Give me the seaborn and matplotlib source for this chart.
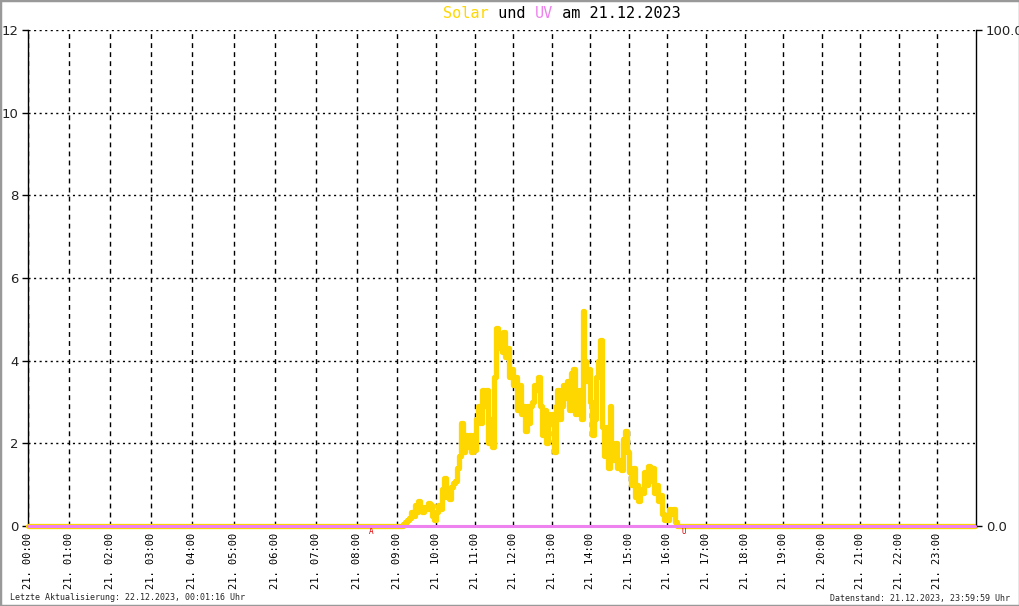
import numpy as np
import pandas as pd
import matplotlib
matplotlib.use('Agg')
import matplotlib.pyplot as plt
import seaborn as sns

# solar readings, one every 3 minutes from 09:03 to 16:15
solar_start = '09:03'
solar_end = '16:15'
solar_values = [
    0.0, 0.0, 0.05, 0.1, 0.15, 0.2, 0.35, 0.25, 0.5, 0.35,     # 09:03 - 09:30
    0.6, 0.45, 0.35, 0.45, 0.4, 0.55, 0.5, 0.25, 0.15, 0.35,   # 09:33 - 10:00
    0.5, 0.4, 0.9, 1.15, 0.7, 0.85, 0.65, 0.95, 1.05, 1.1,     # 10:03 - 10:30
    1.4, 1.7, 2.5, 1.8, 2.2, 1.9, 2.2, 1.8, 2.2, 1.85,         # 10:33 - 11:00
    2.6, 2.9, 2.5, 3.3, 2.9, 3.3, 2.0, 2.6, 1.9, 3.6,          # 11:03 - 11:30
    4.8, 4.3, 4.6, 4.2, 4.7, 4.1, 4.3, 3.6, 3.8, 3.4,          # 11:33 - 12:00
    3.6, 2.8, 3.4, 2.7, 2.9, 2.3, 2.9, 2.5, 2.9, 3.0,          # 12:03 - 12:30
    3.4, 3.3, 3.6, 2.9, 2.2, 2.8, 2.0, 2.7, 2.5, 2.7,          # 12:33 - 13:00
    1.8, 2.9, 3.3, 2.6, 2.9, 3.4, 3.1, 3.5, 2.8, 3.7,          # 13:03 - 13:30
    3.8, 2.7, 3.1, 3.3, 2.6, 5.2, 4.0, 3.5, 3.8, 3.0,          # 13:33 - 14:00
    2.2, 2.6, 3.6, 4.0, 4.5, 2.4, 1.7, 2.4, 1.4, 2.9,          # 14:03 - 14:30
    1.8, 1.6, 2.0, 1.4, 1.6, 1.35, 2.1, 2.3, 1.8, 1.3,         # 14:33 - 15:00
    1.0, 1.4, 0.7, 1.0, 0.6, 0.9, 0.8, 1.3, 1.0, 1.45,         # 15:03 - 15:30
    1.1, 1.4, 0.8, 1.0, 0.6, 0.75, 0.3, 0.15, 0.25, 0.15,      # 15:33 - 16:00
    0.4, 0.3, 0.4, 0.1, 0.0,                                   # 16:03 - 16:15
]
night_times = ['00:00', '23:59']
night_values = [0.0, 0.0]

uv_times = ['00:00', '23:59']
uv_values = [0.0, 0.0]

hour_labels = ['21. %02d:00' % h for h in range(24)]
sun_times = ['08:21', '16:25']
sun_marks = ['A', 'U']

update_text = 'Letzte Aktualisierung: 22.12.2023, 00:01:16 Uhr'
data_text = 'Datenstand: 21.12.2023, 23:59:59 Uhr'


def to_hours(t):
    t = pd.to_datetime(pd.Series(t), format='%H:%M')
    return (t.dt.hour + t.dt.minute / 60.0).to_numpy()


day_times = pd.date_range('2023-12-21 ' + solar_start, '2023-12-21 ' + solar_end, freq='3min')
df_solar = pd.DataFrame({
    'hour': np.concatenate([[to_hours(night_times)[0]],
                            (day_times.hour + day_times.minute / 60.0).to_numpy(),
                            [to_hours(night_times)[1]]]),
    'solar': [night_values[0]] + solar_values + [night_values[1]],
})
df_uv = pd.DataFrame({'hour': to_hours(uv_times), 'uv': uv_values})

sns.set_theme(style='white')
plt.rcParams['font.family'] = ['DejaVu Sans']
plt.rcParams['lines.scale_dashes'] = False

fig = plt.figure(figsize=(10.2, 6.06), dpi=100)
ax = fig.add_axes([28 / 1020, 80 / 606, 948 / 1020, 496 / 606])

# the source plots by sample index, so the hours are not evenly spaced
hour_knots = [0, 8, 9, 10, 24]
pos_knots = [0, 329, 369, 408, 948]
ax.set_xscale('function', functions=(lambda h: np.interp(h, hour_knots, pos_knots),
                                     lambda p: np.interp(p, pos_knots, hour_knots)))

sns.lineplot(data=df_solar, x='hour', y='solar', ax=ax, color='#FFD700', lw=3.8,
             drawstyle='steps-post', estimator=None, sort=False)
for ln in ax.lines:
    ln.set_clip_on(False)
    ln.set_zorder(3)
ax.set_xlim(0, 24)
ax.set_ylim(0, 12)
ax.set_yticks(range(0, 13, 2))
ax.set_xticks(range(24))
ax.set_xticklabels(hour_labels, rotation=90, family='DejaVu Sans Mono', fontsize=7.5,
                   va='top', ha='center')
ax.tick_params(axis='x', length=0, pad=5, colors='#000000')
ax.tick_params(axis='y', length=4, width=1, color='#000000', pad=3, labelsize=9.5,
               labelcolor='#222222', left=True)
ax.set_xlabel('')
ax.set_ylabel('')
ax.xaxis.grid(True, color='black', lw=1, linestyle=(0, (3.5, 3)))
ax.yaxis.grid(True, color='black', lw=1, linestyle=(0, (1.5, 2.5)))
ax.set_axisbelow(True)
for s in ['top', 'bottom', 'right']:
    ax.spines[s].set_visible(False)
ax.spines['left'].set_color('black')
ax.spines['left'].set_linewidth(1)

ax2 = ax.twinx()
ax2.set_zorder(ax.get_zorder() + 1)
ax2.patch.set_visible(False)
sns.lineplot(data=df_uv, x='hour', y='uv', ax=ax2, color='#EE82EE', lw=2.2,
             estimator=None, sort=False)
for ln in ax2.lines:
    ln.set_clip_on(False)
    ln.set_zorder(4)
ax2.set_xlim(0, 24)
ax2.set_ylim(0, 100)
ax2.set_yticks([0, 100])
ax2.set_yticklabels(['0.0', '100.0'])
ax2.set_ylabel('')
ax2.grid(False)
ax2.tick_params(axis='y', length=4, width=1, color='#000000', pad=3, labelsize=9.5,
                labelcolor='#222222', right=True)
for s in ['top', 'bottom', 'left']:
    ax2.spines[s].set_visible(False)
ax2.spines['right'].set_color('black')
ax2.spines['right'].set_linewidth(1)

# sunrise / sunset marks under the axis
for t, m in zip(to_hours(sun_times), sun_marks):
    ax.text(t, -0.012, m, color='#DD0000', fontsize=5.5, family='DejaVu Sans Mono',
            ha='center', va='center', transform=ax.get_xaxis_transform(), clip_on=False)

# title with coloured words
fs = 11
cw = 0.602 * fs * 100 / 72 / 1020
x0 = 443 / 1020
ty = 1 - 13 / 606
pieces = [('Solar', '#FFD700'), (' und ', 'black'), ('UV', '#EE82EE'), (' am 21.12.2023', 'black')]
i = 0
for txt, col in pieces:
    fig.text(x0 + i * cw, ty, txt, color=col, fontsize=fs, family='DejaVu Sans Mono',
             ha='left', va='center')
    i += len(txt)

fig.text(10 / 1020, 1 - 598 / 606, update_text, fontsize=6, family='DejaVu Sans Mono',
         ha='left', va='center')
fig.text(1010 / 1020, 1 - 598 / 606, data_text, fontsize=6, family='DejaVu Sans Mono',
         ha='right', va='center')

fig.patches.append(plt.Rectangle((0, 0), 1, 1, transform=fig.transFigure, fill=False,
                                 edgecolor='#999999', lw=2.5))

fig.savefig('out.png', dpi=100, facecolor='white')
